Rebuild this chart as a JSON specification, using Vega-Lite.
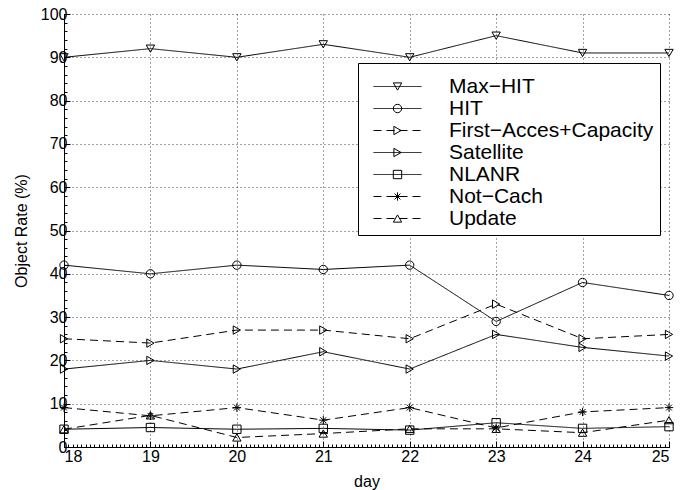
{
  "$schema": "https://vega.github.io/schema/vega-lite/v6.json",
  "width": 605,
  "height": 433,
  "autosize": "none",
  "padding": {"left": 64, "top": 14, "right": 11, "bottom": 43},
  "background": "white",
  "config": {"font": "Liberation Sans", "view": {"stroke": null}},
  "data": {"values": [
    {"series": "Max−HIT", "day": 18, "value": 90}, {"series": "Max−HIT", "day": 19, "value": 92}, {"series": "Max−HIT", "day": 20, "value": 90}, {"series": "Max−HIT", "day": 21, "value": 93},
    {"series": "Max−HIT", "day": 22, "value": 90}, {"series": "Max−HIT", "day": 23, "value": 95}, {"series": "Max−HIT", "day": 24, "value": 91}, {"series": "Max−HIT", "day": 25, "value": 91},
    {"series": "HIT", "day": 18, "value": 42}, {"series": "HIT", "day": 19, "value": 40}, {"series": "HIT", "day": 20, "value": 42}, {"series": "HIT", "day": 21, "value": 41},
    {"series": "HIT", "day": 22, "value": 42}, {"series": "HIT", "day": 23, "value": 29}, {"series": "HIT", "day": 24, "value": 38}, {"series": "HIT", "day": 25, "value": 35},
    {"series": "First−Acces+Capacity", "day": 18, "value": 25}, {"series": "First−Acces+Capacity", "day": 19, "value": 24}, {"series": "First−Acces+Capacity", "day": 20, "value": 27}, {"series": "First−Acces+Capacity", "day": 21, "value": 27},
    {"series": "First−Acces+Capacity", "day": 22, "value": 25}, {"series": "First−Acces+Capacity", "day": 23, "value": 33}, {"series": "First−Acces+Capacity", "day": 24, "value": 25}, {"series": "First−Acces+Capacity", "day": 25, "value": 26},
    {"series": "Satellite", "day": 18, "value": 18}, {"series": "Satellite", "day": 19, "value": 20}, {"series": "Satellite", "day": 20, "value": 18}, {"series": "Satellite", "day": 21, "value": 22},
    {"series": "Satellite", "day": 22, "value": 18}, {"series": "Satellite", "day": 23, "value": 26}, {"series": "Satellite", "day": 24, "value": 23}, {"series": "Satellite", "day": 25, "value": 21},
    {"series": "NLANR", "day": 18, "value": 4.1}, {"series": "NLANR", "day": 19, "value": 4.5}, {"series": "NLANR", "day": 20, "value": 4.1}, {"series": "NLANR", "day": 21, "value": 4.3},
    {"series": "NLANR", "day": 22, "value": 3.9}, {"series": "NLANR", "day": 23, "value": 5.6}, {"series": "NLANR", "day": 24, "value": 4.3}, {"series": "NLANR", "day": 25, "value": 4.7},
    {"series": "Not−Cach", "day": 18, "value": 9.1}, {"series": "Not−Cach", "day": 19, "value": 7.2}, {"series": "Not−Cach", "day": 20, "value": 9.1}, {"series": "Not−Cach", "day": 21, "value": 6.2},
    {"series": "Not−Cach", "day": 22, "value": 9.1}, {"series": "Not−Cach", "day": 23, "value": 4.4}, {"series": "Not−Cach", "day": 24, "value": 8.1}, {"series": "Not−Cach", "day": 25, "value": 9.1},
    {"series": "Update", "day": 18, "value": 4.1}, {"series": "Update", "day": 19, "value": 7.3}, {"series": "Update", "day": 20, "value": 2.2}, {"series": "Update", "day": 21, "value": 3.1},
    {"series": "Update", "day": 22, "value": 4.2}, {"series": "Update", "day": 23, "value": 4.2}, {"series": "Update", "day": 24, "value": 3.3}, {"series": "Update", "day": 25, "value": 6.2}
  ]},
  "layer": [
    {
      "mark": {"type": "line", "color": "black", "strokeWidth": 1},
      "encoding": {
        "x": {"field": "day", "type": "quantitative", "scale": {"domain": [18, 25], "nice": false, "zero": false},
          "axis": {"orient": "bottom", "values": [18, 19, 20, 21, 22, 23, 24, 25], "format": "d", "labelFontSize": 16, "labelColor": "black",
            "title": "day", "titleFontSize": 16, "titleFontWeight": "normal", "titleColor": "black", "titlePadding": 9,
            "grid": true, "gridColor": "#444444", "gridDash": [1, 3], "gridWidth": 1,
            "tickSize": -6, "tickColor": "black", "domainColor": "black", "domainWidth": 1, "labelPadding": 7}},
        "y": {"field": "value", "type": "quantitative", "scale": {"domain": [0, 100], "nice": false},
          "axis": {"orient": "left", "values": [0, 10, 20, 30, 40, 50, 60, 70, 80, 90, 100], "labelFontSize": 16, "labelColor": "black",
            "title": "Object Rate (%)", "titleFontSize": 16, "titleFontWeight": "normal", "titleColor": "black", "titlePadding": 11,
            "grid": true, "gridColor": "#444444", "gridDash": [1, 3], "gridWidth": 1,
            "tickSize": -6, "tickColor": "black", "domainColor": "black", "domainWidth": 1, "labelPadding": 3}},
        "strokeDash": {"field": "series", "type": "nominal",
          "sort": ["Max−HIT", "HIT", "First−Acces+Capacity", "Satellite", "NLANR", "Not−Cach", "Update"],
          "scale": {"range": [[1, 0], [1, 0], [8, 5], [1, 0], [1, 0], [8, 5], [8, 5]]},
          "legend": {"orient": "none", "legendX": 294, "legendY": 49, "title": " ", "titleFontSize": 6, "titlePadding": 1,
            "padding": 6, "symbolOffset": 23,
            "symbolType": "M-5.74,0H5.74", "symbolSize": 70, "symbolStrokeWidth": 1, "symbolStrokeColor": "black",
            "labelFontSize": 21, "labelColor": "black", "labelOffset": 41, "labelLimit": 400, "rowPadding": 0,
            "strokeColor": "black", "fillColor": "white", "zindex": 1}}
      }
    },
    {
      "mark": {"type": "point", "filled": false, "color": "black", "strokeWidth": 1, "size": 70, "opacity": 1},
      "encoding": {
        "x": {"field": "day", "type": "quantitative", "axis": null},
        "y": {"field": "value", "type": "quantitative", "axis": null},
        "shape": {"field": "series", "type": "nominal",
          "scale": {"domain": ["Max−HIT", "HIT", "First−Acces+Capacity", "Satellite", "NLANR", "Not−Cach", "Update"],
            "range": ["triangle-down", "circle", "triangle-right", "triangle-right", "square", "M0,-1L0,1M-1,0L1,0M-0.7,-0.7L0.7,0.7M-0.7,0.7L0.7,-0.7", "triangle-up"]},
          "legend": {"orient": "none", "legendX": 294, "legendY": 49, "title": " ", "titleFontSize": 6, "titlePadding": 1,
            "padding": 6, "symbolOffset": 23,
            "symbolSize": 70, "symbolStrokeWidth": 1, "symbolStrokeColor": "black", "symbolFillColor": "transparent",
            "labelFontSize": 21, "labelOpacity": 0, "labelOffset": 41, "labelLimit": 400, "rowPadding": 0, "zindex": 2}}
      }
    },
    {
      "mark": {"type": "point", "opacity": 0},
      "encoding": {
        "x": {"field": "day", "type": "quantitative",
          "axis": {"orient": "bottom", "tickCount": 140, "labels": false, "grid": false, "domain": false, "tickSize": -3, "tickColor": "black", "title": null}},
        "y": {"field": "value", "type": "quantitative",
          "axis": {"orient": "left", "tickCount": 50, "labels": false, "grid": false, "domain": false, "tickSize": -3, "tickColor": "black", "title": null}}
      }
    }
  ],
  "resolve": {"axis": {"x": "independent", "y": "independent"}}
}
